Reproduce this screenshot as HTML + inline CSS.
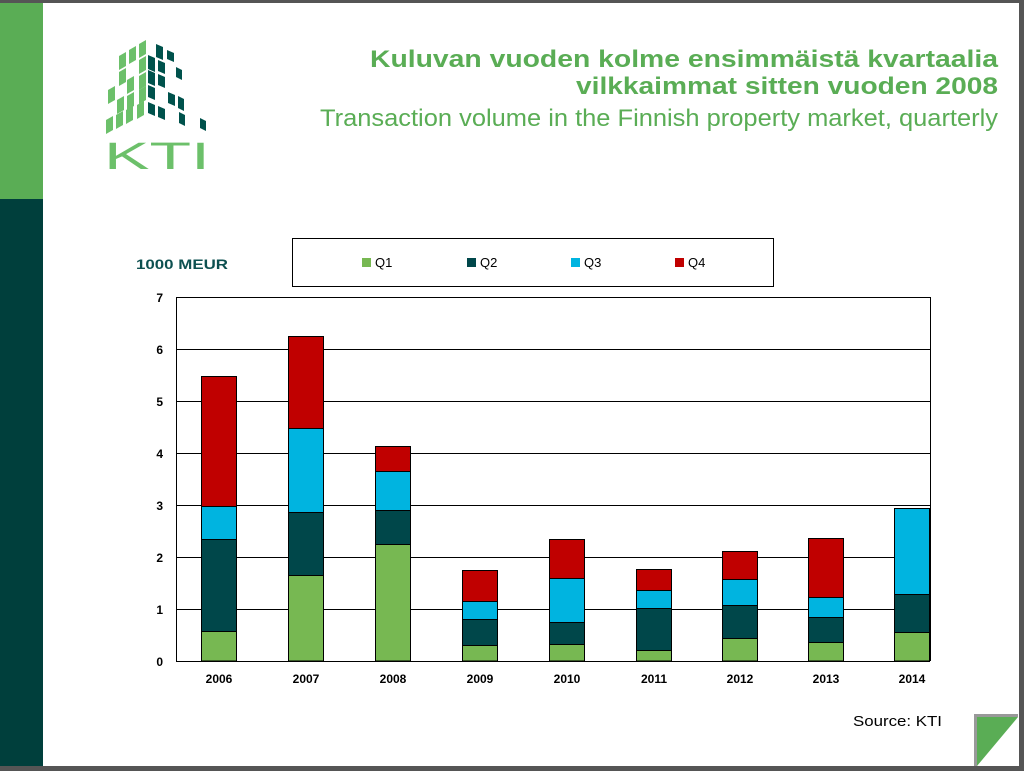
<!DOCTYPE html><html><head><meta charset="utf-8"><style>
body{margin:0;width:1024px;height:771px;overflow:hidden;background:#fff;font-family:"Liberation Sans",sans-serif}
</style></head><body>
<svg width="1024" height="771" xmlns="http://www.w3.org/2000/svg" font-family="Liberation Sans, sans-serif">
<rect x="0" y="0" width="1024" height="771" fill="#fff"/>
<rect x="0" y="0" width="1024" height="3" fill="#555"/>
<rect x="1019" y="0" width="5" height="771" fill="#555"/>
<rect x="0" y="766" width="1024" height="5" fill="#555"/>
<rect x="0" y="3" width="43" height="196" fill="#5aad55"/>
<rect x="0" y="199" width="43" height="567" fill="#003f3c"/>
<!-- logo -->
<g fill="#6cc06a">
<polygon points="119,56 126,52 126,66 119,70"/><polygon points="129,50 136,46 136,60 129,64"/><polygon points="139,44 146,40 146,54 139,58"/>
<polygon points="119,72 126,68 126,82 119,86"/><polygon points="139,60 146,56 146,70 139,74"/>
<polygon points="108,90 115,86 115,100 108,104"/><polygon points="127,80 134,76 134,90 127,94"/><polygon points="139,76 146,72 146,86 139,90"/>
<polygon points="117,100 124,96 124,110 117,114"/><polygon points="127,96 134,92 134,106 127,110"/><polygon points="139,90 146,86 146,100 139,104"/>
<polygon points="106,120 113,116 113,130 106,134"/><polygon points="116,115 123,111 123,125 116,129"/><polygon points="126,110 133,106 133,120 126,124"/><polygon points="137,105 144,101 144,115 137,119"/>
</g>
<g fill="#00524c">
<polygon points="156,44 163,47 163,60 156,57"/><polygon points="167,50 174,53 174,62 167,59"/>
<polygon points="148,55 155,58 155,72 148,69"/><polygon points="158,60 165,63 165,74 158,71"/><polygon points="176,67 182,70 182,80 176,77"/>
<polygon points="148,70 155,73 155,86 148,83"/><polygon points="158,74 165,77 165,88 158,85"/>
<polygon points="148,85 155,88 155,100 148,97"/><polygon points="168,92 175,95 175,106 168,103"/><polygon points="178,96 184,99 184,111 178,108"/>
<polygon points="148,102 155,105 155,116 148,113"/><polygon points="158,106 165,109 165,120 158,117"/><polygon points="179,112 185,115 185,126 179,123"/><polygon points="200,118 206,121 206,131 200,128"/>
</g>
<text x="104" y="169" font-size="38" fill="#6cc06a" textLength="106" lengthAdjust="spacingAndGlyphs">KTI</text>
<!-- titles -->
<text x="370" y="67" font-size="24" font-weight="bold" fill="#5aad55" textLength="628" lengthAdjust="spacingAndGlyphs">Kuluvan vuoden kolme ensimmäistä kvartaalia</text>
<text x="576" y="94" font-size="24" font-weight="bold" fill="#5aad55" textLength="422" lengthAdjust="spacingAndGlyphs">vilkkaimmat sitten vuoden 2008</text>
<text x="320" y="126" font-size="24" fill="#5aad55" textLength="678" lengthAdjust="spacingAndGlyphs">Transaction volume in the Finnish property market, quarterly</text>
<!-- legend -->
<text x="136" y="269" font-size="14" font-weight="bold" fill="#0d5050" textLength="92" lengthAdjust="spacingAndGlyphs">1000 MEUR</text>
<rect x="292.5" y="238.5" width="481" height="48" fill="#fff" stroke="#000"/>
<rect x="362" y="258" width="9" height="9" fill="#77b852"/><text x="375" y="267" font-size="13">Q1</text>
<rect x="467" y="258" width="9" height="9" fill="#00474a"/><text x="480" y="267" font-size="13">Q2</text>
<rect x="571" y="258" width="9" height="9" fill="#00b4e0"/><text x="584" y="267" font-size="13">Q3</text>
<rect x="675" y="258" width="9" height="9" fill="#c00000"/><text x="688" y="267" font-size="13">Q4</text>
<!-- grid -->
<g stroke="#000" stroke-width="1">
<line x1="176" y1="297.5" x2="930" y2="297.5"/><line x1="176" y1="349.5" x2="930" y2="349.5"/><line x1="176" y1="401.5" x2="930" y2="401.5"/><line x1="176" y1="453.5" x2="930" y2="453.5"/><line x1="176" y1="505.5" x2="930" y2="505.5"/><line x1="176" y1="557.5" x2="930" y2="557.5"/><line x1="176" y1="609.5" x2="930" y2="609.5"/>
<line x1="176.5" y1="297" x2="176.5" y2="661"/><line x1="930.5" y1="297" x2="930.5" y2="661"/>
</g>
<g font-size="12" font-weight="bold" text-anchor="end">
<text x="163" y="302">7</text><text x="163" y="354">6</text><text x="163" y="406">5</text><text x="163" y="458">4</text><text x="163" y="510">3</text><text x="163" y="562">2</text><text x="163" y="614">1</text><text x="163" y="666">0</text>
</g>
<g stroke="#000" stroke-width="1">
<rect x="201.5" y="631.5" width="35" height="29.5" fill="#77b852"/><rect x="201.5" y="539.5" width="35" height="92" fill="#00474a"/><rect x="201.5" y="506.5" width="35" height="33" fill="#00b4e0"/><rect x="201.5" y="376.5" width="35" height="130" fill="#c00000"/>
<rect x="288.5" y="575.5" width="35" height="85.5" fill="#77b852"/><rect x="288.5" y="512.5" width="35" height="63" fill="#00474a"/><rect x="288.5" y="428.5" width="35" height="84" fill="#00b4e0"/><rect x="288.5" y="336.5" width="35" height="92" fill="#c00000"/>
<rect x="375.5" y="544.5" width="35" height="116.5" fill="#77b852"/><rect x="375.5" y="510.5" width="35" height="34" fill="#00474a"/><rect x="375.5" y="471.5" width="35" height="39" fill="#00b4e0"/><rect x="375.5" y="446.5" width="35" height="25" fill="#c00000"/>
<rect x="462.5" y="645.5" width="35" height="15.5" fill="#77b852"/><rect x="462.5" y="619.5" width="35" height="26" fill="#00474a"/><rect x="462.5" y="601.5" width="35" height="18" fill="#00b4e0"/><rect x="462.5" y="570.5" width="35" height="31" fill="#c00000"/>
<rect x="549.5" y="644.5" width="35" height="16.5" fill="#77b852"/><rect x="549.5" y="622.5" width="35" height="22" fill="#00474a"/><rect x="549.5" y="578.5" width="35" height="44" fill="#00b4e0"/><rect x="549.5" y="539.5" width="35" height="39" fill="#c00000"/>
<rect x="636.5" y="650.5" width="35" height="10.5" fill="#77b852"/><rect x="636.5" y="608.5" width="35" height="42" fill="#00474a"/><rect x="636.5" y="590.5" width="35" height="18" fill="#00b4e0"/><rect x="636.5" y="569.5" width="35" height="21" fill="#c00000"/>
<rect x="722.5" y="638.5" width="35" height="22.5" fill="#77b852"/><rect x="722.5" y="605.5" width="35" height="33" fill="#00474a"/><rect x="722.5" y="579.5" width="35" height="26" fill="#00b4e0"/><rect x="722.5" y="551.5" width="35" height="28" fill="#c00000"/>
<rect x="808.5" y="642.5" width="35" height="18.5" fill="#77b852"/><rect x="808.5" y="617.5" width="35" height="25" fill="#00474a"/><rect x="808.5" y="597.5" width="35" height="20" fill="#00b4e0"/><rect x="808.5" y="538.5" width="35" height="59" fill="#c00000"/>
<rect x="894.5" y="632.5" width="35" height="28.5" fill="#77b852"/><rect x="894.5" y="594.5" width="35" height="38" fill="#00474a"/><rect x="894.5" y="508.5" width="35" height="86" fill="#00b4e0"/>
</g>
<line x1="176" y1="661.5" x2="930" y2="661.5" stroke="#000"/>
<g font-size="12" font-weight="bold" text-anchor="middle">
<text x="219" y="683">2006</text><text x="306" y="683">2007</text><text x="393" y="683">2008</text><text x="480" y="683">2009</text><text x="567" y="683">2010</text><text x="654" y="683">2011</text><text x="740" y="683">2012</text><text x="826" y="683">2013</text><text x="912" y="683">2014</text>
</g>
<text x="853" y="726" font-size="15" textLength="89" lengthAdjust="spacingAndGlyphs">Source: KTI</text>
<rect x="974" y="714" width="3" height="52" fill="#999"/>
<rect x="974" y="714" width="44" height="3" fill="#999"/>
<polygon points="977,717 1018,717 977,766" fill="#5aad55"/>
</svg>
</body></html>
